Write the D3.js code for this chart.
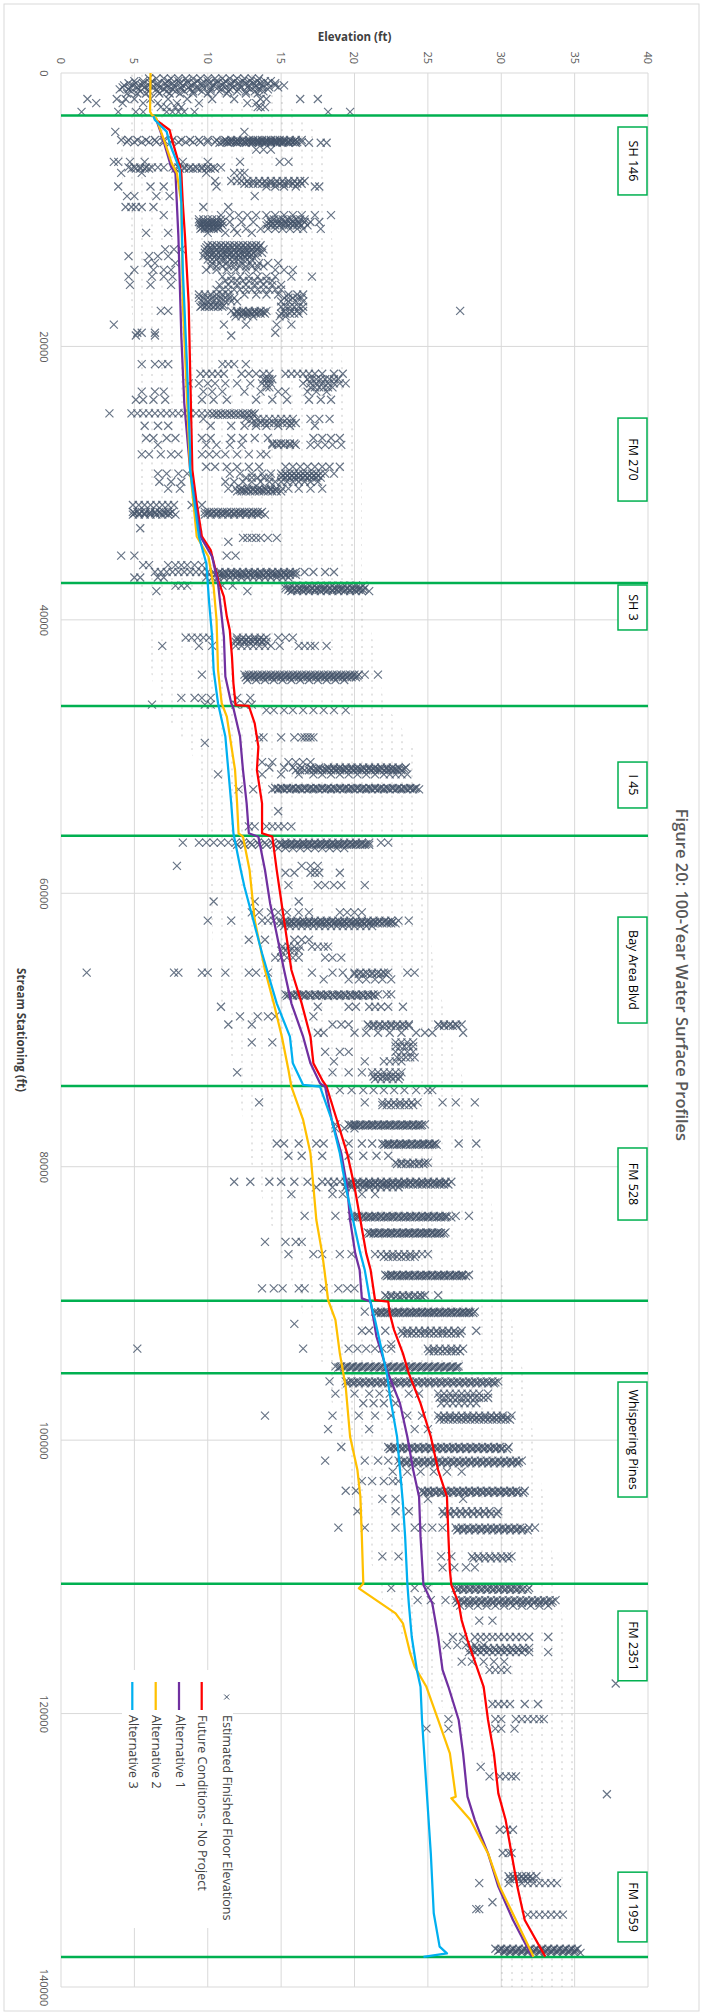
<!DOCTYPE html>
<html><head><meta charset="utf-8">
<script src="https://cdn.jsdelivr.net/npm/d3@7"></script>
<style>
html,body{margin:0;padding:0;background:#fff;}
svg{display:block;}
text{font-family:"Open Sans",sans-serif;}
</style></head><body>
<svg id="chart" width="703" height="2015"></svg>
<script>
// ---------- axis ticks ----------
const stationTicks = [0, 20000, 40000, 60000, 80000, 100000, 120000, 140000];
const elevationTicks = [0, 5, 10, 15, 20, 25, 30, 35, 40];

// ---------- crossings (stream stationing, ft) ----------
const bridgeStations = [3100, 37300, 46300, 55800, 74100, 89800, 95100, 110500, 137800];
const bridgeNames = ["SH 146", "FM 270", "SH 3", "I 45", "Bay Area Blvd", "FM 528", "Whispering Pines", "FM 2351", "FM 1959"];
// station extent of each crossing's label box
const labelFrom = [3950, 25240, 37450, 50400, 61740, 78630, 95750, 112500, 131600];
const labelTo   = [8920, 31310, 40740, 53760, 69490, 83900, 104160, 117600, 136700];

// ---------- 100-year water surface profiles [station, elevation] ----------
const futureNoProject = [[3150,6.3],[3440,6.5],[4170,7.4],[5020,7.6],[6850,8.1],[7340,8.2],[9530,8.3],[11970,8.45],[16850,8.7],[21720,8.8],[26600,8.9],[29040,8.95],[31480,9.25],[33900,9.6],[34890,10.2],[37080,10.7],[38300,11.1],[39760,11.3],[40740,11.5],[42690,11.65],[44640,11.75],[46230,11.9],[46300,12.8],[47570,13.2],[49270,13.45],[50980,13.35],[53420,13.7],[55610,13.7],[55860,14.4],[58300,14.7],[61960,15.2],[65610,15.7],[68050,16.4],[70490,17.0],[72440,17.2],[73660,17.8],[74150,18.1],[76580,18.8],[79020,19.5],[81460,20.0],[83900,20.4],[86340,20.8],[87560,21.1],[89750,21.4],[89870,22.3],[90730,22.4],[91950,22.7],[93650,23.3],[95120,23.7],[97310,24.5],[99750,25.2],[102190,25.7],[104140,26.3],[107060,26.4],[109500,26.5],[110600,26.6],[111940,27.1],[113160,27.3],[114620,27.7],[118040,28.8],[120470,29.1],[122910,29.5],[125840,29.8],[127790,30.3],[130230,30.7],[132660,31.1],[135100,31.6],[137780,33.0]];
const alternative1 = [[3150,6.3],[3440,6.5],[4660,6.9],[6850,7.5],[7340,7.8],[11970,8.0],[19280,8.2],[24160,8.4],[27820,8.7],[29040,8.8],[33900,9.5],[35380,10.3],[37330,10.7],[38790,10.85],[41230,11.1],[44150,11.2],[46100,11.6],[46470,11.75],[48540,12.2],[50980,12.4],[53420,12.65],[55610,12.8],[55860,13.45],[58300,13.9],[60740,14.25],[61960,14.5],[65610,15.2],[68050,15.7],[70490,16.5],[72440,17.0],[73900,17.65],[74150,18.0],[76580,18.45],[79020,19.1],[81460,19.5],[83900,19.7],[86340,20.05],[87560,20.35],[89630,20.5],[89870,21.1],[92440,21.5],[94870,22.2],[97310,23.1],[99750,23.6],[102190,24.0],[104140,24.4],[107060,24.5],[110600,24.7],[111940,25.3],[114380,25.7],[116810,26.0],[118040,26.4],[120470,27.1],[122910,27.4],[126080,27.7],[127790,28.2],[130230,29.1],[132660,29.8],[135100,30.8],[137780,32.1]];
const alternative2 = [[0,6.1],[2830,6.07],[3070,6.2],[3315,6.5],[5140,7.1],[6610,7.55],[7340,7.9],[9530,8.2],[16850,8.3],[24160,8.6],[29040,8.8],[33900,9.25],[35380,10.05],[37570,10.4],[40010,10.6],[43670,10.7],[46100,10.95],[47080,11.3],[50980,11.86],[53420,12.0],[55610,12.1],[55860,12.4],[58300,12.85],[61960,13.2],[65610,13.9],[68050,14.5],[70490,15.05],[72930,15.5],[74150,15.7],[76580,16.5],[79020,17.0],[81460,17.2],[83900,17.4],[86340,17.8],[87560,17.95],[89750,18.2],[91210,18.7],[93650,19.0],[96090,19.4],[99750,19.7],[102190,20.2],[104140,20.4],[107060,20.5],[110480,20.6],[110840,20.3],[111210,20.8],[112670,22.8],[113400,23.3],[115600,23.8],[116570,24.1],[118040,24.9],[120470,25.7],[122910,26.5],[126080,26.9],[126200,26.6],[127790,27.9],[130230,29.1],[132660,29.9],[135100,31.0],[137780,32.2]];
const alternative3 = [[3150,6.3],[3440,6.4],[4290,7.2],[5140,7.4],[7090,8.1],[9530,8.2],[14410,8.3],[21720,8.6],[27820,8.8],[29040,8.8],[33900,9.4],[35860,9.9],[38790,10.1],[41230,10.3],[43670,10.4],[46100,10.7],[48540,11.2],[50980,11.4],[53420,11.6],[55610,11.75],[58300,12.25],[59520,12.5],[61960,13.1],[64390,13.7],[68050,14.7],[70490,15.6],[72440,15.8],[74020,16.5],[74150,17.65],[76580,18.45],[79020,19.0],[81460,19.4],[83900,19.9],[86340,20.4],[87560,20.7],[89750,21.05],[91210,21.4],[93650,21.9],[95120,22.2],[97310,22.5],[99750,22.9],[102190,23.1],[104620,23.3],[107060,23.45],[110480,23.6],[111940,23.7],[114380,23.9],[116810,24.25],[118040,24.5],[120470,24.6],[125350,24.9],[130230,25.2],[134610,25.4],[137050,25.8],[137540,26.3],[137800,24.7]];

// ---------- estimated finished floor elevations ----------
// each row: [station, elevation, elevation, ...]
const floorsUpToSH146 = [
  [400,6.0,6.5,7.0,7.5,8.0,8.5,9.0,9.5,10.0,10.5,11.0,11.5,12.0,12.5,13.0,13.5],
  [600,5.0,5.6,6.2,7.3,8.0,8.6,9.3,10.0,10.6,11.2,11.8,12.4,12.9,13.4,13.9,14.3],
  [750,4.6,5.1,5.6,6.1,6.6,7.1,7.6,8.1,8.6,9.1,9.6,10.1,10.6,11.1,11.6,12.1,12.6,13.1,13.6,14.1,14.6],
  [900,4.3,4.9,5.5,6.0,6.6,7.2,7.7,8.3,8.9,9.6,10.4,11.0,11.6,12.2,12.8,13.3,13.7,14.6,15.2],
  [1050,4.2,4.7,5.2,5.7,6.2,6.7,7.2,7.7,8.2,8.7,9.2,9.7,10.2,10.7,11.2,11.7,12.2,12.7,13.2,13.7,14.2,14.8],
  [1200,4.0,4.6,5.3,5.9,6.5,7.0,7.6,8.2,8.8,9.4,10.2,10.9,11.5,12.1,12.9,13.5,14.1],
  [1350,4.8,5.4,6.0,6.6,7.2,7.8,8.4,9.0,9.6,10.2,10.8,11.4,12.0,12.6,13.2,13.8],
  [1500,4.5,5.2,5.8,6.7,7.4,8.1,9.0,10.0,11.3,12.6,13.4],
  [1900,1.8,3.8,4.4,5.0,6.1,7.3,8.6,10.3,11.8,13.6,14.0,16.3,17.5],
  [2200,2.4,4.2,5.6,6.6,7.9,9.4,12.7,13.3],
  [2500,6.8,7.2,7.8,8.2,13.4,13.6,13.9],
  [2850,1.4,3.9,5.1,5.6,7.2,7.6,8.0,8.4,9.1,18.2,19.7]
];
const floorsSH146toFM270 = [
  [4300,3.7,12.5],
  [4900,4.1,4.6,5.2,5.8,6.4,7.0,7.6,8.2,8.8,9.4,10.0,10.6,11.2,11.6,12.0,12.4,12.8,13.1,13.4,13.7,14.0,14.3,14.6,14.9,15.2,15.6,16.0,16.4],
  [5000,11.1,11.3,11.5,11.7,11.9,12.1,12.3,12.5,12.7,12.9,13.1,13.3,13.5,13.7,13.9,14.1,14.3,14.5,14.7,14.9,15.1,15.3,15.5,15.7,15.9],
  [5050,4.5,5.0,5.5,6.0,6.5,7.0,7.5,8.0,8.5,9.0,9.5,10.0,10.5,11.0,11.3,11.6,11.9,12.2,12.5,12.8,13.1,13.4,13.7,14.0,14.3,14.6,14.9,15.2,15.5,15.8,16.1,16.4],
  [5100,10.8,11.4,12.0,12.6,13.0,13.5,13.9,14.3,14.7,15.1,15.5,16.0,16.9,17.7,18.1],
  [5600,13.3,13.8,14.3],
  [6500,3.6,3.9,4.7,5.7,8.3,10.0,12.2,14.9,15.5],
  [6900,4.6,5.0,5.4,5.8,6.2,6.6,7.0,7.6,8.0,8.4,8.8,9.2,9.6,10.0,10.4,10.9],
  [7000,4.8,5.1,5.4,5.7,6.0,7.8,8.1,8.4,8.7,9.0,9.3,9.6,9.9,10.2,10.5],
  [7300,4.1,5.5,9.9,11.8,12.2,12.5],
  [7900,10.5,11.6,12.0,12.3,12.7,13.1,13.5,13.9,14.3,14.7,15.1,15.5,15.9,16.3,16.6],
  [8100,12.5,12.8,13.1,13.4,13.7,14.0,14.3,14.6,14.9,15.2,15.5,15.8,16.1,16.4],
  [8300,3.9,6.1,7.0,10.6,14.0,14.6,15.2,16.0,17.3,17.6],
  [9000,4.5,5.0,6.5,7.4,13.2],
  [9800,4.4,4.8,5.1,5.5,6.3,9.7,11.4],
  [10400,7.0,10.9,11.5,12.1,12.7,13.3,14.0,14.6,15.2,15.8,16.4,17.3,18.4],
  [10700,9.4,9.7,10.0,10.3,10.6,10.9,14.2,14.5,14.8,15.1,15.4,15.7,16.0,16.3,16.6],
  [10900,9.4,9.7,10.0,10.3,10.6,11.0,11.5,12.3,13.1,14.3,14.8,15.3,15.8,16.2,16.6,17.0,17.6],
  [11000,9.5,9.7,9.9,10.1,10.3,10.5,10.7,10.9,14.1,14.4,14.7,15.0,15.3,15.6,15.9,16.2],
  [11150,9.5,9.8,10.1,10.4,10.7,11.0,14.0,14.3,14.6,14.9,15.2,15.5,15.8,16.1,16.4,16.8],
  [11300,9.6,9.8,10.0,10.2,10.4,10.6,10.8],
  [11400,9.5,9.8,10.1,10.4,10.7,11.8,12.6,13.6,14.1,14.6,15.1,15.6,16.1,16.5,17.7],
  [11700,5.8,7.3,10.0,11.2,12.0,13.0],
  [12600,10.0,10.3,10.6,10.9,11.2,11.5,11.8,12.1,12.4,12.7,13.0,13.3,13.6],
  [12750,9.9,10.2,10.5,10.8,11.1,11.4,11.7,12.0,12.3,12.6,12.9,13.2,13.5],
  [12900,7.1,7.7,8.2,9.8,10.2,10.6,11.0,11.4,11.8,12.2,12.6,13.0,13.4,13.8],
  [13150,9.8,10.1,10.4,10.7,11.0,11.3,11.6,11.9,12.2,12.5,12.8,13.1,13.4,13.7],
  [13300,10.0,10.3,10.6,10.9,11.2,11.5,11.8,12.1,12.4,12.7,13.0],
  [13400,4.6,6.0,6.6,7.3,9.7,10.1,10.5,10.9,11.3,11.7,12.1,12.5,12.9,13.3],
  [13650,10.0,10.3,10.6,10.9,11.2,11.5,11.8,12.1,12.4,12.7,13.0],
  [13900,5.9,6.4,7.8,10.3,10.8,11.3,11.8,12.3,12.9,13.5,14.1,14.8],
  [14150,10.2,10.6,11.0,11.4,11.8,12.2,12.6,13.0,13.4,13.8],
  [14400,5.0,6.3,7.0,7.5,9.9,10.6,11.3,11.9,12.6,13.3,14.6,15.2,15.8],
  [14900,4.6,6.2,7.0,7.6,11.0,11.6,12.2,12.8,13.4,14.0,14.6,15.7,17.1],
  [15200,11.2,11.6,12.0,12.4,12.8,13.2,13.6,14.0,14.4],
  [15500,4.7,6.1,7.5,10.8,11.4,12.0,12.6,13.2,13.8,14.4,15.0],
  [15850,10.6,11.0,11.4,11.8,12.2,12.6,13.0,13.4,13.8,14.2,14.6,15.0],
  [16200,9.4,9.8,10.2,10.6,11.0,11.4,12.5,13.3,14.0,14.8,15.5,16.1,16.5],
  [16450,9.4,9.7,10.0,10.3,10.6,10.9,11.2,11.5,11.8,15.2,15.5,15.8,16.1,16.4],
  [16700,9.6,10.0,10.4,10.8,11.2,11.6,12.0,15.0,15.5,16.0,16.5],
  [17000,9.6,9.9,10.2,10.5,10.8,11.1],
  [17100,9.5,9.8,10.1,10.4,10.7,11.0,15.0,15.3,15.6,15.9,16.2,16.5],
  [17400,6.8,7.3,11.6,12.0,12.4,12.8,13.2,13.6,14.0,15.2,15.7,16.1,16.5,27.2],
  [17500,12.0,12.3,12.6,12.9,13.2,13.5,13.8],
  [17600,11.8,12.1,12.4,12.7,13.0,13.3,13.6,13.9,15.0,15.3,15.6,15.9,16.2],
  [17800,11.9,12.3,12.7,13.1,14.9,15.3],
  [18400,3.6,11.1,12.6,14.7,15.7],
  [19000,5.2,5.5,6.4,14.6],
  [19200,5.1,6.4,11.6],
  [21300,5.5,6.4,6.9,7.3,11.0,11.4,11.8,12.6],
  [22000,9.5,9.9,10.3,10.7,11.1,12.3,12.8,13.3,13.8,14.2,15.3,15.7,16.1,16.5,16.9,17.3,17.8,18.6,19.2],
  [22400,13.8,14.0,14.2,14.4,16.8,17.1,17.4,17.7,18.0,18.3,18.6,18.9],
  [22700,8.7,9.4,10.0,10.5,11.2,12.0,12.9,13.7,14.0,14.3,16.5,17.0,17.4,17.8,18.2,18.6,19.0,19.4],
  [23000,14.0,14.2,17.0,17.3,17.6,17.9,18.2,18.5],
  [23300,5.5,6.4,7.0,9.7,10.3,11.0,12.5,13.6,14.8,15.3,16.8,17.4,18.1],
  [23900,5.1,5.6,6.3,7.1,9.6,10.4,11.3,13.3,14.4,15.4,16.9,17.7,18.4],
  [24900,3.3,4.8,5.2,5.6,6.0,6.4,6.8,7.2,7.6,8.0,8.4,8.8,9.2,9.6,10.0,10.3,10.6,10.9,11.2,11.5,11.8,12.1,12.4,12.7,13.0,13.2],
  [25000,10.4,10.7,11.0,11.3,11.6,11.9,12.2,12.5,12.8,13.1],
  [25300,9.7,12.6,13.0,13.4,13.8,14.2,14.6,15.0,15.4,15.8,17.0,17.6,18.3],
  [25600,13.0,13.3,13.6,13.9,14.2,14.5,14.8,15.1,15.4,15.7,16.0],
  [25800,5.7,6.6,7.3,10.2,11.6,12.5,13.3,14.0,14.8,15.6,17.3],
  [26700,5.8,6.3,7.2,7.8,9.6,10.2,11.6,12.4,13.2,14.1,17.2,17.8,18.4,19.0],
  [27100,14.4,14.7,15.0,15.3,15.6,15.9],
  [27200,6.6,9.9,10.6,11.5,12.3,14.4,14.8,15.2,15.6,16.0,17.0,17.5,18.0,18.5,19.1],
  [27900,5.5,6.0,6.8,7.5,8.0,9.6,10.1,10.6,11.2,12.0,12.8,13.6,14.0],
  [28800,9.9,10.5,11.3,12.0,12.8,13.5,15.3,15.8,16.3,16.8,17.3,17.8,18.3,19.0],
  [29300,6.6,7.2,8.0,8.6,11.5,12.2,13.0,13.7,14.3,15.0,15.3,15.6,15.9,16.2,16.5,16.8,17.1,17.4,17.7,18.0,18.6],
  [29450,15.1,15.4,15.7,16.0,16.3,16.6,16.9,17.2,17.5],
  [29600,12.6,13.0,13.4,13.8,14.2,15.0,15.3,15.6,15.9,16.2,16.5,16.8,17.1,17.4,17.7],
  [29900,6.7,7.5,8.2,11.2,11.8,12.4,13.0,13.6,14.2,14.6,15.0,15.4,15.8,16.2,16.6,17.0,17.5],
  [30400,7.3,8.1,11.4,11.9,12.3,12.7,13.1,13.5,13.9,14.3,14.7,15.1,15.5,16.2,17.0,17.8],
  [30500,12.2,12.5,12.8,13.1,13.4,13.7,14.0,14.3,14.6],
  [30600,12.0,12.3,12.6,12.9,13.2,13.5,13.8,14.1,14.4,14.7,15.0],
  [31600,4.9,5.3,5.7,6.1,6.5,6.9,7.3,7.7,8.9,9.6],
  [32100,4.9,5.2,5.5,5.8,6.1,6.4,6.7,7.0,7.3,7.6,9.8,10.1,10.4,10.7,11.0,11.3,11.6,11.9,12.2,12.5,12.8,13.1,13.4,13.7],
  [32200,5.0,5.35,5.7,6.05,6.4,6.75,7.1,7.45,10.0,10.3,10.6,10.9,11.2,11.5,11.8,12.1,12.4,12.7,13.0,13.3,13.6],
  [32300,4.9,5.3,5.7,6.1,6.5,6.9,7.3,7.8,9.8,10.2,10.6,11.0,11.4,11.8,12.2,12.6,13.0,13.4,13.9],
  [33300,5.4],
  [34000,12.4,12.7,13.0,13.3,13.6,14.1,14.7],
  [34300,11.4],
  [35300,4.1,5.0,11.3,11.9],
  [36000,5.6,6.0,7.3,7.8,8.2,8.6,9.1,9.6],
  [36500,6.4,6.8,7.2,7.6,8.0,8.4,8.8,9.2,9.6,10.0,10.4,10.8,11.2,11.6,12.0,12.4,12.8,13.2,13.6,14.0,14.4,14.8,15.2,15.6,16.0,16.6,17.2,18.0,18.6],
  [36600,10.7,11.0,11.3,11.6,11.9,12.2,12.5,12.8,13.1,13.4,13.7,14.0,14.3,14.6,14.9,15.2,15.5,15.8],
  [36700,10.5,10.8,11.1,11.4,11.7,12.0,12.3,12.6,12.9,13.2,13.5,13.8,14.1,14.4,14.7,15.0,15.3,15.6,16.0],
  [36900,5.0,5.4,6.6,7.0,9.9,10.3,10.7,11.1,11.5,11.9,12.3,12.7,13.1,13.5,13.9,14.3,14.7,15.1,15.5]
];
const floorsFM270toI45 = [
  [37500,7.8,8.2,8.6,11.0,11.7,15.3,15.7,16.1,16.5,16.9,17.3,17.7,18.1,18.5,18.9,19.3,19.7,20.1,20.6],
  [37700,15.3,15.6,15.9,16.2,16.5,16.8,17.1,17.4,17.7,18.0,18.3,18.6,18.9,19.2,19.5,19.8,20.1,20.4,20.7],
  [37800,15.5,15.8,16.1,16.4,16.7,17.0,17.3,17.6,17.9,18.2,18.5,18.8,19.1,19.4,19.7,20.0,20.3,20.6],
  [37900,6.5,12.7,15.7,16.1,16.5,16.9,17.3,17.7,18.1,18.5,18.9,19.3,19.7,20.1,20.5,21.0],
  [41300,8.5,8.9,9.3,9.7,10.1,12.0,12.4,12.8,13.2,13.6,14.0,14.8,15.3,15.8],
  [41450,12.0,12.3,12.6,12.9,13.2,13.5,13.8],
  [41600,11.9,12.2,12.5,12.8,13.1,13.4,13.7,14.0],
  [41900,6.9,9.4,10.3,11.9,12.3,12.7,13.1,13.5,13.9,14.3,14.9,16.2,16.6,17.0,17.3,18.1],
  [44000,9.6,12.5,12.8,13.1,13.4,13.7,14.0,14.3,14.6,14.9,15.2,15.5,15.8,16.1,16.4,16.7,17.0,17.3,17.6,17.9,18.2,18.5,18.8,19.1,19.4,19.7,20.0,20.3,20.7,21.6],
  [44100,12.7,13.0,13.3,13.6,13.9,14.2,14.5,14.8,15.1,15.4,15.7,16.0,16.3,16.6,16.9,17.2,17.5,17.8,18.1,18.4,18.7,19.0,19.3,19.6,19.9,20.2],
  [44200,12.6,12.9,13.2,13.5,13.8,14.1,14.4,14.7,15.0,15.3,15.6,15.9,16.2,16.5,16.8,17.1,17.4,17.7,18.0,18.3,18.6,18.9,19.2,19.5,19.8,20.1],
  [44400,12.7,13.3,13.9,14.5,15.1,15.7,16.3,16.9,17.5,18.1,18.7,19.3],
  [45700,8.2,9.1,9.6,10.2,12.0,12.9],
  [46200,6.2,9.8,10.2,11.9,12.5,13.0],
  [46600,14.0,14.5,15.2,15.8,16.5,17.2,17.9,18.6,19.4],
  [48600,13.5,13.8,15.0,15.9,16.4,16.6,16.8,17.0,17.2],
  [49000,9.8],
  [50400,13.7,14.4,15.5,16.0,16.5,17.0],
  [50800,14.2,15.2,15.8,16.4,17.0,17.6,18.2,18.6,19.0,19.4,19.8,20.2,20.6,21.0,21.4,21.8,22.2,22.6,23.0,23.5],
  [50900,17.1,17.4,17.7,18.0,18.3,18.6,18.9,19.2,19.5,19.8,20.1,20.4,20.7,21.0,21.3,21.6,21.9,22.2,22.5,22.8,23.1,23.4],
  [51000,16.0,16.3,16.6,16.9,17.2,17.5,17.8,18.1,18.4,18.7,19.0,19.3,19.6,19.9,20.2,20.5,20.8,21.1,21.4,21.7,22.0,22.3,22.6,22.9,23.2],
  [51300,10.7,13.7,15.0,16.2,17.2,17.8,18.4,19.0,19.6,20.2,20.8,21.4,22.0,22.4,22.8,23.2,23.6],
  [52300,14.6,15.0,15.4,15.8,16.2,16.6,17.0,17.4,17.8,18.2,18.6,19.0,19.4,19.8,20.2,20.6,21.0,21.4,21.8,22.2,22.6,23.0,23.4,23.8,24.2],
  [52350,14.8,15.1,15.4,15.7,16.0,16.3,16.6,16.9,17.2,17.5,17.8,18.1,18.4,18.7,19.0,19.3,19.6,19.9,20.2,20.5,20.8,21.1,21.4,21.7,22.0,22.3,22.6,22.9,23.2,23.5,23.8,24.1],
  [52400,12.1,13.1,14.4,14.8,15.2,15.6,16.0,16.4,16.8,17.2,17.6,18.0,18.4,18.8,19.2,19.6,20.0,20.4,20.8,21.2,21.6,22.0,22.4,22.8,23.2,23.6,24.0,24.4],
  [54000,14.8],
  [55100,12.8,13.2,14.0,14.4,14.8,15.2,15.7]
];
const floorsI45toFM528 = [
  [56300,8.3,9.4,9.9,10.4,10.9,11.4,11.9,12.4,12.9,13.4,13.9,14.4,14.9,15.3,15.7,16.1,16.5,16.9,17.3,17.7,18.1,18.5,18.9,19.3,19.7,20.1,20.5,21.0,21.8,22.3],
  [56400,15.1,15.4,15.7,16.0,16.3,16.6,16.9,17.2,17.5,17.8,18.1,18.4,18.7,19.0,19.3,19.6,19.9,20.2,20.5,20.8],
  [56450,12.0,12.5,13.0,13.5,14.0,14.5,15.0,15.3,15.6,15.9,16.2,16.5,16.8,17.1,17.4,17.7,18.0,18.3,18.6,18.9,19.2,19.5,19.8,20.1,20.4,20.7,21.0],
  [56700,14.8,15.3,15.8,16.3,16.8,17.3,17.8,18.3,18.8,19.3],
  [58000,7.9,16.4,17.0,17.5],
  [58500,15.3,15.9,17.0,17.3,17.6,19.0],
  [59400,15.5,17.5,18.0,18.6,19.1,20.7],
  [60600,10.4,13.2,16.2],
  [61400,13.0,13.5,14.3,14.8,15.4,16.2,16.9,19.0,19.5,20.0,20.5],
  [62000,10.0,11.6,13.7,14.1,14.5,14.9,15.3,15.7,16.1,16.5,16.9,17.3,17.7,18.1,18.5,18.9,19.3,19.7,20.1,20.5,20.9,21.3,21.7,22.1,22.5,23.0,23.7],
  [62100,15.1,15.4,15.7,16.0,16.3,16.6,16.9,17.2,17.5,17.8,18.1,18.4,18.7,19.0,19.3,19.6,19.9,20.2,20.5,20.8,21.1,21.4,21.7,22.0,22.3,22.6],
  [62200,15.0,15.3,15.6,15.9,16.2,16.5,16.8,17.1,17.4,17.7,18.0,18.3,18.6,18.9,19.2,19.5,19.8,20.1,20.4,20.7,21.0,21.3,21.6,21.9,22.2,22.5,22.8],
  [62400,15.2,15.6,16.0,16.4,16.8,17.2,17.6,18.0,18.4,18.8,19.2,19.6,20.0,20.4,20.8,21.2],
  [63400,12.8,13.9,15.9,16.4,16.9],
  [63900,15.1,15.5,15.9,16.3,17.1,17.5,17.9,18.2],
  [64200,15.0,15.3,15.6,15.9,16.2],
  [64700,14.6,15.0,15.4,15.8,16.2,18.0,18.5,19.1],
  [65800,1.75,7.7,8.0,9.6,10.0,11.2,12.8,13.3,14.1,17.1,18.5,19.2,20.0,20.4,20.8,21.2,21.6,22.0,22.3,23.6,24.1],
  [65900,20.0,20.3,20.6,20.9,21.2,21.5,21.8,22.1],
  [66300,17.9,19.6,20.3,20.8,21.4,21.9,22.5],
  [67400,15.3,15.7,16.1,16.5,16.9,17.3,17.7,18.1,18.5,18.9,19.3,19.7,20.1,20.5,20.9,21.3,21.6,22.2,22.5],
  [67450,15.5,15.8,16.1,16.4,16.7,17.0,17.3,17.6,17.9,18.2,18.5,18.8,19.1,19.4,19.7,20.0,20.3,20.6,20.9,21.2],
  [67500,15.4,15.8,16.2,16.6,17.0,17.4,17.8,18.2,18.6,19.0,19.4,19.8,20.2,20.6,21.0,21.4],
  [68300,10.9,17.5,19.6,20.1,21.0,21.4,21.8,22.3,23.3],
  [69000,12.2,13.4,14.1,14.6,17.2],
  [69600,11.4,13.0,18.5,19.1,19.6,20.9,21.3,21.7,22.1,22.5,22.9,23.3,23.7,25.7,26.1,26.5,26.9,27.3],
  [69700,21.0,21.3,21.6,21.9,22.2,22.5,22.8,23.1,23.4,23.7,25.8,26.1,26.4,26.7,27.0],
  [70200,17.5,17.9,20.0,20.8,21.6,22.4,23.2,24.2,24.8,25.3,27.4],
  [70900,13.0,14.4,22.8,23.2,23.6,24.0],
  [71200,22.8,23.1,23.4,23.7,24.0],
  [71600,18.0,19.0,19.6,22.8,23.2,23.6,24.0],
  [72000,22.9,23.2,23.5,23.8,24.1],
  [72300,18.6,20.7,22.0,22.4,22.8,23.2],
  [73100,12.0,18.5,19.6,20.5,21.2,21.6,22.0,22.4,22.8,23.2],
  [73400,21.3,21.6,21.9,22.2,22.5,22.8,23.1],
  [73600,21.4,21.8,22.2,22.6,23.0],
  [74400,19.0,19.8,20.6,21.3,22.0,22.7,23.4,24.2,25.0,25.3],
  [75300,13.5,20.7,21.9,22.3,22.7,23.1,23.5,23.9,24.3,26.0,26.9,28.2],
  [75500,21.9,22.2,22.5,22.8,23.1,23.4,23.7,24.0],
  [76900,18.7,19.6,20.0,20.4,20.8,21.2,21.6,22.0,22.4,22.8,23.2,23.6,24.0,24.4,24.8],
  [76950,19.8,20.1,20.4,20.7,21.0,21.3,21.6,21.9,22.2,22.5,22.8,23.1,23.4,23.7,24.0,24.3,24.6],
  [77000,19.7,20.0,20.3,20.6,20.9,21.2,21.5,21.8,22.1,22.4,22.7,23.0,23.3,23.6,23.9,24.2,24.5],
  [77200,18.7,19.3,20.0],
  [78300,14.7,15.2,16.2,17.4,17.9,19.6,20.5,21.2,21.9,22.3,22.7,23.1,23.5,23.9,24.3,24.7,25.1,25.5,27.1,28.3],
  [78350,22.1,22.4,22.7,23.0,23.3,23.6,23.9,24.2,24.5,24.8,25.1,25.4],
  [78400,22.0,22.3,22.6,22.9,23.2,23.5,23.8,24.1,24.4,24.7,25.0,25.3,25.6],
  [79200,15.5,16.4,17.8,19.6,20.6,21.5,22.3],
  [79700,22.8,23.2,23.6,24.0,24.4,24.8,25.0],
  [79800,22.9,23.2,23.5,23.8,24.1,24.4,24.7],
  [81100,11.8,12.9,14.2,15.0,15.9,16.8,17.8,18.2,18.6,19.0,19.4,19.8,20.2,20.6,21.0,21.4,21.8,22.2,22.6,23.0,23.4,23.8,24.2,24.6,25.0,25.4,25.8,26.2,26.6],
  [81200,19.6,19.9,20.2,20.5,20.8,21.1,21.4,21.7,22.0,22.3,22.6,22.9,23.2,23.5,23.8,24.1,24.4,24.7,25.0,25.3,25.6,25.9,26.2],
  [81300,19.5,19.8,20.1,20.4,20.7,21.0,21.3,21.6,21.9,22.2,22.5,22.8,23.1,23.4,23.7,24.0,24.3,24.6,24.9,25.2,25.5,25.8,26.1,26.4],
  [81500,17.4,18.5,19.4,19.8,20.2,20.6,21.0,21.4,21.8,22.2,22.6,23.0],
  [82000,15.7,18.5,19.2,20.5,21.4],
  [83600,16.6,18.7,19.8,20.2,20.6,21.0,21.4,21.8,22.2,22.6,23.0,23.4,23.8,24.2,24.6,25.0,25.4,25.8,26.2,26.9,27.8],
  [83650,20.0,20.3,20.6,20.9,21.2,21.5,21.8,22.1,22.4,22.7,23.0,23.3,23.6,23.9,24.2,24.5,24.8,25.1,25.4,25.7,26.0,26.3],
  [83700,19.9,20.2,20.5,20.8,21.1,21.4,21.7,22.0,22.3,22.6,22.9,23.2,23.5,23.8,24.1,24.4,24.7,25.0,25.3,25.6,25.9,26.2,26.6],
  [84800,20.9,21.3,21.7,22.1,22.5,22.9,23.3,23.7,24.1,24.5,24.9,25.3,25.7,26.2],
  [84850,21.1,21.4,21.7,22.0,22.3,22.6,22.9,23.2,23.5,23.8,24.1,24.4,24.7,25.0,25.3,25.6,25.9],
  [84900,21.0,21.3,21.6,21.9,22.2,22.5,22.8,23.1,23.4,23.7,24.0,24.3,24.6,24.9,25.2,25.5,25.8,26.1],
  [85500,13.9,15.3,16.0,16.4],
  [86400,15.5,17.2,17.8,19.0,19.8,21.4,21.8,22.2,22.6,23.0,23.4,23.8,24.2,24.6,25.0],
  [86600,22.0,22.3,22.6,22.9,23.2,23.5,23.8,24.1],
  [87900,22.1,22.5,22.9,23.3,23.7,24.1,24.5,24.9,25.3,25.7,26.1,26.5,26.9,27.3,27.8],
  [87950,22.3,22.6,22.9,23.2,23.5,23.8,24.1,24.4,24.7,25.0,25.3,25.6,25.9,26.2,26.5,26.8,27.1,27.4],
  [88000,22.2,22.5,22.8,23.1,23.4,23.7,24.0,24.3,24.6,24.9,25.2,25.5,25.8,26.1,26.4,26.7,27.0,27.3,27.6],
  [88900,13.7,14.5,15.1,16.2,16.6,17.9,18.9,19.5,20.0],
  [89400,22.1,22.5,22.9,23.3,23.7,24.1,24.5,24.8,25.7],
  [89500,22.2,22.5,22.8,23.1,23.4,23.7,24.0,24.3,24.6]
];
const floorsFM528toFM2351 = [
  [90600,20.7,21.4,21.8,22.2,22.6,23.0,23.4,23.8,24.2,24.6,25.0,25.4,25.8,26.2,26.6,27.0,27.4,27.8,28.2],
  [90650,21.6,21.9,22.2,22.5,22.8,23.1,23.4,23.7,24.0,24.3,24.6,24.9,25.2,25.5,25.8,26.1,26.4,26.7,27.0,27.3,27.6,27.9],
  [90700,21.5,21.8,22.1,22.4,22.7,23.0,23.3,23.6,23.9,24.2,24.5,24.8,25.1,25.4,25.7,26.0,26.3,26.6,26.9,27.2,27.5,27.8,28.1],
  [91500,15.9],
  [92000,20.5,21.0,22.1,23.2,23.6,24.0,24.4,24.8,25.2,25.6,26.0,26.4,26.8,27.3,28.3],
  [92200,23.3,23.6,23.9,24.2,24.5,24.8,25.1,25.4,25.7,26.0,26.3,26.6,26.9,27.2],
  [93000,22.5],
  [93300,5.2,16.5,19.6,20.2,20.8,21.4,21.9,22.5,25.0,25.4,25.8,26.2,26.6,27.0,27.4],
  [93500,25.1,25.4,25.7,26.0,26.3,26.6,26.9,27.2],
  [94600,18.7,19.1,19.5,19.9,20.3,20.7,21.1,21.5,21.9,22.3,22.7,23.1,23.5,23.9,24.3,24.7,25.1,25.5,25.9,26.3,26.7,27.1],
  [94650,19.0,19.4,19.8,20.2,20.6,21.0,21.4,21.8,22.2,22.6,23.0,23.4,23.8,24.2,24.6,25.0,25.4,25.8,26.2,26.6,27.0],
  [94700,18.9,19.3,19.7,20.1,20.5,20.9,21.3,21.7,22.1,22.5,22.9,23.3,23.7,24.1,24.5,24.9,25.3,25.7,26.1,26.5,26.9],
  [95700,18.3,19.4,19.8,20.2,20.6,21.0,21.4,21.8,22.2,22.6,23.0,23.4,23.8,24.2,24.6,25.0,25.4,25.8,26.2,26.6,27.0,27.4,27.8,28.2,28.6,29.0,29.4,29.8],
  [95780,19.6,20.0,20.4,20.8,21.2,21.6,22.0,22.4,22.8,23.2,23.6,24.0,24.4,24.8,25.2,25.6,26.0,26.4,26.8,27.2,27.6,28.0,28.4,28.8,29.2,29.6],
  [95850,19.5,19.9,20.3,20.7,21.1,21.5,21.9,22.3,22.7,23.1,23.5,23.9,24.3,24.7,25.1,25.5,25.9,26.3,26.7,27.1,27.5,27.9,28.3,28.7,29.1,29.5],
  [96600,18.7,20.0,21.0,21.7,22.4,23.7,24.4,25.7,26.1,26.5,26.9,27.3,27.7,28.1,28.5,29.1],
  [96900,25.8,26.1,26.4,26.7,27.0,27.3,27.6,27.9,28.2,28.5,28.8,29.1],
  [97300,20.6,21.3,22.0,22.8,25.9,26.3,26.7,27.1,27.5,27.9,28.3],
  [98200,13.9,18.5,20.3,21.4,22.5,23.6,24.6,25.7,26.1,26.5,26.9,27.3,27.7,28.1,28.5,28.9,29.3,29.7,30.1,30.7],
  [98350,25.9,26.2,26.5,26.8,27.1,27.4,27.7,28.0,28.3,28.6,28.9,29.2,29.5,29.8,30.1,30.4],
  [98500,25.8,26.1,26.4,26.7,27.0,27.3,27.6,27.9,28.2,28.5,28.8,29.1,29.4,29.7,30.0,30.3,30.6],
  [99200,18.2,21.0,24.1,25.0],
  [100500,19.1,22.3,22.7,23.1,23.5,23.9,24.3,24.7,25.1,25.5,25.9,26.3,26.7,27.1,27.5,27.9,28.3,28.7,29.1,29.5,29.9,30.5],
  [100580,22.5,22.9,23.3,23.7,24.1,24.5,24.9,25.3,25.7,26.1,26.5,26.9,27.3,27.7,28.1,28.5,28.9,29.3,29.7,30.1],
  [100650,22.4,22.8,23.2,23.6,24.0,24.4,24.8,25.2,25.6,26.0,26.4,26.8,27.2,27.6,28.0,28.4,28.8,29.2,29.6,30.0,30.4],
  [101500,18.0,20.7,21.6,22.3,23.0,23.4,23.8,24.2,24.6,25.0,25.4,25.8,26.2,26.6,27.0,27.4,27.8,28.2,28.6,29.0,29.4,29.8,30.2,30.6,31.0,31.4],
  [101600,23.2,23.6,24.0,24.4,24.8,25.2,25.6,26.0,26.4,26.8,27.2,27.6,28.0,28.4,28.8,29.2,29.6,30.0,30.4,30.8,31.2],
  [101700,23.1,23.5,23.9,24.3,24.7,25.1,25.5,25.9,26.3,26.7,27.1,27.5,27.9,28.3,28.7,29.1,29.5,29.9,30.3,30.7,31.1],
  [102300,22.6,23.6,24.5,25.4,26.3,27.3],
  [103000,20.5,21.2,22.0,22.6,23.0],
  [103700,19.4,20.1,24.6,25.0,25.4,25.8,26.2,26.6,27.0,27.4,27.8,28.2,28.6,29.0,29.4,29.8,30.2,30.6,31.0,31.6],
  [103780,24.8,25.2,25.6,26.0,26.4,26.8,27.2,27.6,28.0,28.4,28.8,29.2,29.6,30.0,30.4,30.8,31.2],
  [103850,24.7,25.1,25.5,25.9,26.3,26.7,27.1,27.5,27.9,28.3,28.7,29.1,29.5,29.9,30.3,30.7,31.1,31.5],
  [104300,21.9,22.8,25.0,27.4],
  [105200,20.2,22.8,23.7,26.0,26.4,26.8,27.2,27.6,28.0,28.4,28.8,29.2,29.8],
  [105400,26.1,26.5,26.9,27.3,27.7,28.1,28.5,28.9,29.3,29.7],
  [106400,18.9,20.7,22.8,24.1,24.6,25.3,26.0,26.9,27.3,27.7,28.1,28.5,28.9,29.3,29.7,30.1,30.5,30.9,31.3,31.9,32.3],
  [106500,27.1,27.5,27.9,28.3,28.7,29.1,29.5,29.9,30.3,30.7,31.1,31.5],
  [106600,27.0,27.4,27.8,28.2,28.6,29.0,29.4,29.8,30.2,30.6,31.0,31.4,31.8],
  [108500,21.9,23.0,25.9,26.6,28.0,28.4,28.8,29.2,29.6,30.0,30.4,30.7],
  [108650,28.1,28.5,28.9,29.3,29.7,30.1,30.5],
  [109300,26.0,26.8,27.6,28.2]
];
const floorsFM2351toFM1959 = [
  [110800,22.5,24.1,25.0,26.9,27.3,27.7,28.1,28.5,28.9,29.3,29.7,30.1,30.5,30.9,31.3,31.9],
  [110880,27.1,27.5,27.9,28.3,28.7,29.1,29.5,29.9,30.3,30.7,31.1,31.5],
  [110950,27.0,27.4,27.8,28.2,28.6,29.0,29.4,29.8,30.2,30.6,31.0,31.4,31.8],
  [111700,24.3,25.2,26.2,26.9,27.3,27.7,28.1,28.5,28.9,29.3,29.7,30.1,30.5,30.9,31.3,31.7,32.1,32.5,32.9,33.3,33.7],
  [111800,27.1,27.5,27.9,28.3,28.7,29.1,29.5,29.9,30.3,30.7,31.1,31.5,31.9,32.3,32.7,33.1,33.5],
  [111900,27.0,27.4,27.8,28.2,28.6,29.0,29.4,29.8,30.2,30.6,31.0,31.4,31.8,32.2,32.6,33.0,33.4],
  [112100,27.2,27.8,28.4,29.0,29.6,30.2,30.8,31.4,32.0,32.6,33.2],
  [113200,28.5,29.4],
  [114400,26.7,27.4,28.2,28.6,29.0,29.4,29.8,30.2,30.6,31.0,31.4,31.9,33.2],
  [115000,26.3,27.0,27.6,28.2,28.8],
  [115200,27.9,28.3,28.7,29.1,29.5,29.9,30.3,30.7,31.1,31.5,31.9],
  [115350,28.0,28.4,28.8,29.2,29.6,30.0,30.4,30.8,31.2,31.6],
  [115500,27.8,28.2,28.6,29.0,29.4,29.8,30.2,30.6,31.0,31.4,31.9,33.2],
  [115800,38.5],
  [116200,27.3,28.0,28.8,29.5,30.2],
  [116800,29.2,29.6,30.0,30.4],
  [117800,37.8],
  [119300,29.4,29.8,30.2,30.6,31.6,32.5],
  [120400,26.4,29.6,30.0,31.0,31.4,31.8,32.2,32.6,32.9],
  [121100,24.9,26.4,29.6,30.0,30.9],
  [123900,28.6],
  [124600,29.2,29.9,30.3,30.7,31.0],
  [125900,37.2],
  [128500,29.9,30.4,30.8],
  [130200,30.1,30.5,30.7],
  [131900,30.5,30.8,31.1,31.4,31.7,32.0,32.4],
  [132100,30.6,30.9,31.2,31.5,31.8,32.1],
  [132400,28.5,30.5,31.4,31.8,32.2,32.6,33.0,33.4,33.8],
  [133800,29.4],
  [134300,28.3,28.5],
  [134700,31.8,32.2,32.6,33.0,33.4,33.8,34.2],
  [137200,29.6,30.0,30.4,30.8,31.2,31.6,32.0,32.4,32.8,33.2,33.6,34.0,34.4,34.8,35.2],
  [137280,29.9,30.3,30.7,31.1,31.5,31.9,32.3,32.7,33.1,33.5,33.9,34.3,34.7,35.1],
  [137350,29.8,30.2,30.6,31.0,31.4,31.8,32.2,32.6,33.0,33.4,33.8,34.2,34.6,35.0],
  [137500,30.2,30.6,31.0,31.4,31.8,32.2,32.6,33.0,33.4,33.8,34.2,34.6,35.0,35.4]
];

// ---------- surveyed structure band [station, low elevation, high elevation] ----------
const surveyBand = [[0,4.5,14],[3000,4.5,16],[5000,4,18],[20000,5,19],[30000,5,20.5],[37000,5,20.5],[46000,6.5,22],[50000,9,24.5],[58000,10,24.5],[66000,10.5,25.5],[74000,12,27.5],[80000,13,29],[88000,15.5,30],[95000,18,31.5],[105000,20,33],[112000,22,34],[118000,25,35],[125000,29.5,35],[140000,29.5,35]];

// ---------- series styling ----------
const profileSeries = [
  {name: "Future Conditions - No Project", data: futureNoProject, color: "#FF0000"},
  {name: "Alternative 1", data: alternative1, color: "#7030A0"},
  {name: "Alternative 2", data: alternative2, color: "#FFC000"},
  {name: "Alternative 3", data: alternative3, color: "#00B0F0"}
];
const floorColor = "#44546A";
const bridgeColor = "#00B050";
const gridColor = "#d9d9d9";

// ---------- layout (drawn landscape, then turned a quarter clockwise) ----------
const W = 2015, H = 703;
const svg = d3.select("#chart");
const defs = svg.append("defs");
const root = svg.append("g").attr("transform", `translate(${H},0) rotate(90)`);

const x = d3.scaleLinear().domain([0, 140000]).range([73, 1987]);
const y = d3.scaleLinear().domain([0, 40]).range([642, 55]);

// outer chart border
root.append("rect").attr("x", 4).attr("y", 4).attr("width", W - 8).attr("height", H - 8)
  .attr("fill", "#fff").attr("stroke", gridColor).attr("stroke-width", 1);

defs.append("clipPath").attr("id", "plotClip").append("rect")
  .attr("x", x(0)).attr("y", y(40)).attr("width", x(140000) - x(0)).attr("height", y(0) - y(40));

const dotPat = defs.append("pattern").attr("id", "surveyDots")
  .attr("patternUnits", "userSpaceOnUse").attr("width", 6.8).attr("height", 10);
dotPat.append("circle").attr("cx", 1).attr("cy", 1).attr("r", 0.65).attr("fill", "#8c8c8c");

// gridlines
const grid = root.append("g");
grid.selectAll("line.h").data(elevationTicks).join("line").attr("class", "h")
  .attr("x1", x(0)).attr("x2", x(140000)).attr("y1", d => y(d)).attr("y2", d => y(d))
  .attr("stroke", gridColor).attr("stroke-width", 1);
grid.selectAll("line.v").data(stationTicks).join("line").attr("class", "v")
  .attr("x1", d => x(d)).attr("x2", d => x(d)).attr("y1", y(0)).attr("y2", y(40))
  .attr("stroke", gridColor).attr("stroke-width", 1);

// axes
const elevAxis = root.append("g").attr("transform", `translate(${x(0)},0)`)
  .call(d3.axisLeft(y).tickValues(elevationTicks).tickSize(0).tickPadding(9));
const stationAxis = root.append("g").attr("transform", `translate(0,${y(0)})`)
  .call(d3.axisBottom(x).tickValues(stationTicks).tickFormat(d3.format("d")).tickSize(0).tickPadding(13));
[elevAxis, stationAxis].forEach(a => {
  a.select(".domain").remove();
  a.selectAll("text").attr("font-family", "Open Sans").attr("font-size", 11).attr("fill", "#595959");
});

// axis titles and chart title
root.append("text").attr("transform", `translate(38,${(y(0) + y(40)) / 2}) rotate(-90)`)
  .attr("text-anchor", "middle").attr("dominant-baseline", "middle")
  .attr("font-size", 11.5).attr("font-weight", 700).attr("fill", "#404040").text("Elevation (ft)");
root.append("text").attr("x", (x(0) + x(140000)) / 2).attr("y", 683)
  .attr("text-anchor", "middle").attr("dominant-baseline", "middle")
  .attr("font-size", 11.5).attr("font-weight", 700).attr("fill", "#404040").text("Stream Stationing (ft)");
root.append("text").attr("x", 975).attr("y", 23)
  .attr("text-anchor", "middle").attr("dominant-baseline", "middle")
  .attr("font-size", 16.5).attr("font-weight", 600).attr("fill", "#595959")
  .text("Figure 20: 100-Year Water Surface Profiles");

const plot = root.append("g").attr("clip-path", "url(#plotClip)");

// dotted survey band
plot.append("path").datum(surveyBand)
  .attr("d", d3.area().x(d => x(d[0])).y0(d => y(d[1])).y1(d => y(d[2])))
  .attr("fill", "url(#surveyDots)").attr("opacity", 0.7);

// finished floor elevations
const floorRows = [].concat(floorsUpToSH146, floorsSH146toFM270, floorsFM270toI45,
  floorsI45toFM528, floorsFM528toFM2351, floorsFM2351toFM1959);
const floors = floorRows.flatMap(r => r.slice(1).map(e => [r[0], e]));
const xr = 4;
const crossPath = `M${-xr},${-xr}L${xr},${xr}M${-xr},${xr}L${xr},${-xr}`;
plot.append("g").selectAll("path").data(floors).join("path")
  .attr("transform", d => `translate(${x(d[0])},${y(d[1])})`)
  .attr("d", crossPath).attr("fill", "none")
  .attr("stroke", floorColor).attr("stroke-width", 1.15).attr("stroke-opacity", 0.82);

// crossings
plot.append("g").selectAll("line").data(bridgeStations).join("line")
  .attr("x1", d => x(d)).attr("x2", d => x(d)).attr("y1", y(0)).attr("y2", y(40))
  .attr("stroke", bridgeColor).attr("stroke-width", 2.5);

// water surface profiles
const line = d3.line().x(d => x(d[0])).y(d => y(d[1]));
plot.append("g").selectAll("path").data(profileSeries).join("path")
  .attr("d", d => line(d.data)).attr("fill", "none")
  .attr("stroke", d => d.color).attr("stroke-width", 2.25).attr("stroke-linejoin", "round");

// crossing labels
const lbl = root.append("g").selectAll("g").data(bridgeNames).join("g");
lbl.append("rect")
  .attr("x", (d, i) => x(labelFrom[i])).attr("width", (d, i) => x(labelTo[i]) - x(labelFrom[i]))
  .attr("y", 56).attr("height", 29)
  .attr("fill", "#fff").attr("stroke", bridgeColor).attr("stroke-width", 1.5);
lbl.append("text")
  .attr("x", (d, i) => (x(labelFrom[i]) + x(labelTo[i])) / 2).attr("y", 70.5)
  .attr("text-anchor", "middle").attr("dominant-baseline", "middle")
  .attr("font-size", 12.5).attr("fill", "#000").text(d => d);

// legend
const legend = root.append("g");
legend.append("rect").attr("x", 1670).attr("y", 470).attr("width", 258).attr("height", 111).attr("fill", "#fff");
const legendItems = [{name: "Estimated Finished Floor Elevations", marker: true}]
  .concat(profileSeries.map(s => ({name: s.name, color: s.color})));
const li = legend.selectAll("g").data(legendItems).join("g")
  .attr("transform", (d, i) => `translate(1682,${476.3 + [0, 25, 47.7, 71, 94.4][i]})`);
li.filter(d => d.marker).append("path")
  .attr("transform", "translate(15,0)").attr("d", "M-2.5,-2.5L2.5,2.5M-2.5,2.5L2.5,-2.5")
  .attr("stroke", floorColor).attr("stroke-width", 1);
li.filter(d => !d.marker).append("line")
  .attr("x1", 0).attr("x2", 28).attr("stroke", d => d.color).attr("stroke-width", 2.25);
li.append("text").attr("x", 33).attr("dominant-baseline", "middle")
  .attr("font-size", 12.5).attr("fill", "#404040").text(d => d.name);
</script></body></html>
